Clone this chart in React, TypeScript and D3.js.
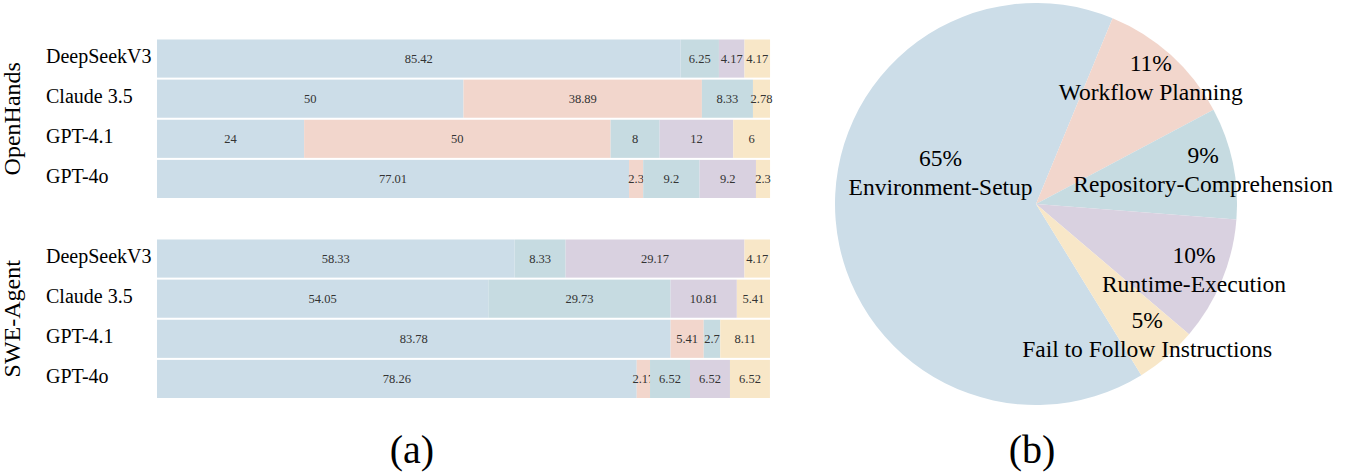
import React from 'react';
import * as d3 from 'd3';

const categories = [
  'Environment-Setup',
  'Workflow Planning',
  'Repository-Comprehension',
  'Runtime-Execution',
  'Fail to Follow Instructions',
];
const models = ['DeepSeekV3', 'Claude 3.5', 'GPT-4.1', 'GPT-4o'];
const openHandsValues = [
  [85.42, 0, 6.25, 4.17, 4.17],
  [50, 38.89, 8.33, 0, 2.78],
  [24, 50, 8, 12, 6],
  [77.01, 2.3, 9.2, 9.2, 2.3],
];
const sweAgentValues = [
  [58.33, 0, 8.33, 29.17, 4.17],
  [54.05, 0, 29.73, 10.81, 5.41],
  [83.78, 5.41, 2.7, 0, 8.11],
  [78.26, 2.17, 6.52, 6.52, 6.52],
];
const groups = ['OpenHands', 'SWE-Agent'];
const pieValues = [65, 11, 9, 10, 5];
const panelLabels = ['(a)', '(b)'];
const colors = ['#ccdde8', '#f2d6cc', '#c6dbe1', '#d9d1e0', '#f8e7c8'];

const FONT = "'Times New Roman', 'Liberation Serif', Times, serif";

function BarGroup({ name, values, top }: { name: string; values: number[][]; top: number }) {
  const x = d3.scaleLinear().domain([0, 100]).range([157, 770]);
  const y = d3.scaleBand<string>().domain(models).range([top, top + 158.5]).paddingInner(0.05);
  const rows = models.map((m, i) => {
    const r: any = { model: m };
    categories.forEach((c, j) => (r[c] = values[i][j]));
    return r;
  });
  const series = d3.stack<any>().keys(categories)(rows);
  const mid = top + 158.5 / 2;
  return (
    <g>
      <text
        transform={`translate(20,${mid}) rotate(-90)`}
        textAnchor="middle"
        style={{ fontFamily: FONT, fontSize: 24 }}
        fill="#000"
      >
        {name}
      </text>
      {models.map((m) => (
        <text
          key={m}
          x={46}
          y={(y(m) as number) + y.bandwidth() / 2 + 4.5}
          style={{ fontFamily: FONT, fontSize: 20 }}
          fill="#000"
        >
          {m}
        </text>
      ))}
      {series.map((s, si) =>
        s.map((d, di) => {
          const v = d[1] - d[0];
          if (v <= 0) return null;
          const yy = y(models[di]) as number;
          return (
            <g key={`${si}-${di}`}>
              <rect x={x(d[0])} y={yy} width={x(d[1]) - x(d[0])} height={y.bandwidth()} fill={colors[si]} />
              <text
                x={(x(d[0]) + x(d[1])) / 2}
                y={yy + y.bandwidth() / 2 + 4.5}
                textAnchor="middle"
                style={{ fontFamily: FONT, fontSize: 12.5 }}
                fill="#333"
              >
                {String(values[di][si])}
              </text>
            </g>
          );
        })
      )}
    </g>
  );
}

function Pie() {
  const cx = 1036;
  const cy = 204;
  const r = 201;
  const start = (148.4 * Math.PI) / 180;
  const arcs = d3
    .pie<number>()
    .sort(null)
    .value((d) => d)
    .startAngle(start)
    .endAngle(start + 2 * Math.PI)(pieValues);
  const arc = d3.arc<d3.PieArcDatum<number>>().innerRadius(0).outerRadius(r);
  const maxV = d3.max(pieValues) as number;
  return (
    <g>
      <g transform={`translate(${cx},${cy})`}>
        {arcs.map((a, i) => (
          <path key={i} d={arc(a) as string} fill={colors[i]} />
        ))}
      </g>
      {arcs.map((a, i) => {
        const big = a.data === maxV;
        let ang = (a.startAngle + a.endAngle) / 2;
        let R = r * 0.85;
        if (big) {
          ang += 0.4;
          R = r * 0.5;
        }
        const lx = cx + R * Math.sin(ang);
        const ly = cy - R * Math.cos(ang);
        return (
          <g key={`l${i}`}>
            <text x={lx} y={ly - 6} textAnchor="middle" style={{ fontFamily: FONT, fontSize: 23.5 }} fill="#000">
              {`${pieValues[i]}%`}
            </text>
            <text x={lx} y={ly + 23} textAnchor="middle" style={{ fontFamily: FONT, fontSize: 23.5 }} fill="#000">
              {categories[i]}
            </text>
          </g>
        );
      })}
    </g>
  );
}

export default function App() {
  return (
    <svg
      width={1357}
      height={476}
      style={{ position: 'absolute', left: 0, top: 0, display: 'block', background: '#fff' }}
    >
      <rect width={1357} height={476} fill="#fff" />
      <BarGroup name={groups[0]} values={openHandsValues} top={39.5} />
      <BarGroup name={groups[1]} values={sweAgentValues} top={239.5} />
      <Pie />
      <text x={412} y={463} textAnchor="middle" style={{ fontFamily: FONT, fontSize: 40 }} fill="#000">
        {panelLabels[0]}
      </text>
      <text x={1032} y={463} textAnchor="middle" style={{ fontFamily: FONT, fontSize: 40 }} fill="#000">
        {panelLabels[1]}
      </text>
    </svg>
  );
}
